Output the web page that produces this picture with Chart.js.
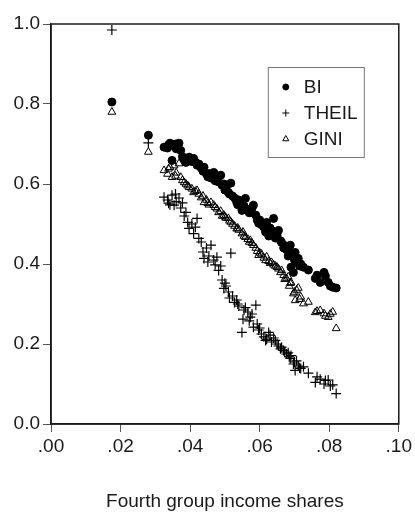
<!DOCTYPE html>
<html>
<head>
<meta charset="utf-8">
<script src="https://cdn.jsdelivr.net/npm/chart.js@4.4.1/dist/chart.umd.min.js"></script>
<style>
    html, body { margin: 0; padding: 0; background: #ffffff; }
    #wrap { width: 415px; height: 519px; position: relative; }
</style>
</head>
<body>
<div id="wrap"><canvas id="chartShares"></canvas></div>
<script>
// ========== DONNÉES ==========
const fourthShare = [
    0.0175, 0.0280, 0.0325, 0.0335, 0.0342, 0.0348, 0.0354, 0.0360, 0.0368, 0.0373,
    0.0378, 0.0388, 0.0393, 0.0397, 0.0405, 0.0410, 0.0420, 0.0425, 0.0432, 0.0440,
    0.0447, 0.0454, 0.0460, 0.0468, 0.0477, 0.0482, 0.0488, 0.0492, 0.0497, 0.0503,
    0.0510, 0.0517, 0.0522, 0.0528, 0.0534, 0.0540, 0.0549, 0.0555, 0.0559, 0.0566,
    0.0573, 0.0578, 0.0582, 0.0589, 0.0593, 0.0597, 0.0605, 0.0612, 0.0617, 0.0620,
    0.0626, 0.0634, 0.0640, 0.0645, 0.0654, 0.0660, 0.0663, 0.0669, 0.0677, 0.0682,
    0.0688, 0.0690, 0.0697, 0.0702, 0.0706, 0.0711, 0.0718, 0.0726, 0.0740, 0.0760,
    0.0774, 0.0785, 0.0789, 0.0797, 0.0803, 0.0810, 0.0820,
    0.0338, 0.0358, 0.0383, 0.0415, 0.0437, 0.0451, 0.0472, 0.0500, 0.0513, 0.0537,
    0.0552, 0.0570, 0.0600, 0.0630, 0.0650, 0.0672, 0.0685, 0.0700, 0.0715, 0.0765
];
const biValues = [
    0.805, 0.722, 0.692, 0.690, 0.702, 0.659, 0.695, 0.688, 0.702, 0.684,
    0.668, 0.654, 0.660, 0.667, 0.656, 0.664, 0.647, 0.650, 0.640, 0.642,
    0.625, 0.626, 0.615, 0.629, 0.612, 0.605, 0.622, 0.597, 0.600, 0.590,
    0.579, 0.602, 0.570, 0.565, 0.554, 0.560, 0.534, 0.545, 0.564, 0.535,
    0.529, 0.540, 0.547, 0.522, 0.510, 0.502, 0.498, 0.492, 0.480, 0.504,
    0.470, 0.484, 0.514, 0.465, 0.484, 0.458, 0.454, 0.440, 0.436, 0.420,
    0.447, 0.392, 0.379, 0.429, 0.405, 0.414, 0.400, 0.392, 0.385, 0.364,
    0.354, 0.379, 0.370, 0.354, 0.345, 0.342, 0.340,
    0.698, 0.700, 0.662, 0.655, 0.632, 0.618, 0.608, 0.585, 0.575, 0.548,
    0.538, 0.528, 0.510, 0.490, 0.472, 0.446, 0.432, 0.410, 0.395, 0.372
];
const theilValues = [
    0.985, 0.703, 0.567, 0.560, 0.548, 0.572, 0.547, 0.556, 0.565, 0.540,
    0.553, 0.529, 0.504, 0.489, 0.500, 0.476, 0.514, 0.464, 0.455, 0.414,
    0.440, 0.420, 0.447, 0.410, 0.417, 0.384, 0.395, 0.360, 0.339, 0.345,
    0.330, 0.427, 0.320, 0.304, 0.310, 0.295, 0.229, 0.285, 0.291, 0.280,
    0.267, 0.275, 0.242, 0.297, 0.250, 0.235, 0.225, 0.218, 0.209, 0.212,
    0.229, 0.205, 0.215, 0.209, 0.195, 0.188, 0.192, 0.184, 0.175, 0.178,
    0.164, 0.171, 0.150, 0.134, 0.158, 0.145, 0.139, 0.143, 0.127, 0.104,
    0.112, 0.100, 0.109, 0.110, 0.095, 0.098, 0.076,
    0.552, 0.575, 0.520, 0.492, 0.430, 0.405, 0.398, 0.352, 0.315, 0.300,
    0.262, 0.258, 0.240, 0.222, 0.200, 0.180, 0.168, 0.155, 0.140, 0.118
];
const giniValues = [
    0.780, 0.680, 0.634, 0.625, 0.642, 0.617, 0.646, 0.628, 0.651, 0.617,
    0.609, 0.600, 0.596, 0.592, 0.588, 0.579, 0.584, 0.575, 0.566, 0.554,
    0.560, 0.548, 0.554, 0.547, 0.538, 0.529, 0.532, 0.520, 0.522, 0.515,
    0.514, 0.505, 0.500, 0.495, 0.488, 0.485, 0.476, 0.470, 0.467, 0.462,
    0.459, 0.452, 0.447, 0.440, 0.432, 0.422, 0.425, 0.415, 0.409, 0.418,
    0.407, 0.404, 0.398, 0.395, 0.388, 0.379, 0.384, 0.372, 0.364, 0.368,
    0.352, 0.354, 0.326, 0.309, 0.335, 0.340, 0.318, 0.301, 0.305, 0.279,
    0.284, 0.276, 0.270, 0.267, 0.275, 0.280, 0.239,
    0.638, 0.620, 0.604, 0.582, 0.570, 0.552, 0.542, 0.518, 0.508, 0.490,
    0.480, 0.455, 0.428, 0.402, 0.392, 0.362, 0.345, 0.330, 0.312, 0.282
];
const xTicks = [0, 0.02, 0.04, 0.06, 0.08, 0.10];
const yTicks = [0, 0.2, 0.4, 0.6, 0.8, 1.0];
const seriesNames = ['BI', 'THEIL', 'GINI'];
const xTitle = 'Fourth group income shares';

(function() {
    'use strict';

    const FONT = "'Liberation Sans', Arial, sans-serif";
    const INK = '#1a1a1a';

    const toPoints = (vals) => fourthShare.map((x, i) => ({ x: x, y: vals[i] }));

    // ========== CADRE + LÉGENDE ==========
    const framePlugin = {
        id: 'frameBox',
        afterDraw(chart) {
            const { ctx, chartArea: a } = chart;
            ctx.save();
            ctx.strokeStyle = INK;
            ctx.lineWidth = 1.5;
            ctx.strokeRect(a.left, a.top, a.right - a.left, a.bottom - a.top);

            // légende dans la zone du graphique
            const bx = a.right - 131, by = a.top + 43, bw = 96, bh = 90;
            ctx.lineWidth = 1;
            ctx.strokeStyle = '#777';
            ctx.strokeRect(bx + 0.5, by + 0.5, bw, bh);
            ctx.font = '19px ' + FONT;
            ctx.textBaseline = 'middle';
            chart.data.datasets.forEach((ds, i) => {
                const cy = by + 20 + i * 26;
                const opts = {
                    pointStyle: ds.pointStyle,
                    radius: ds.pointStyle === 'circle' ? 3 : 3.5,
                    borderWidth: 1
                };
                ctx.strokeStyle = '#000';
                ctx.fillStyle = ds.backgroundColor;
                if (Chart.helpers && Chart.helpers.drawPoint) {
                    Chart.helpers.drawPoint(ctx, opts, bx + 18, cy);
                }
                ctx.fillStyle = INK;
                ctx.fillText(ds.label, bx + 36, cy + 1);
            });
            ctx.restore();
        }
    };

    function initChart() {
        const ctx = document.getElementById('chartShares');
        if (!ctx) return;

        new Chart(ctx, {
            type: 'scatter',
            data: {
                datasets: [{
                    label: seriesNames[0],
                    data: toPoints(biValues),
                    pointStyle: 'circle',
                    radius: 4,
                    backgroundColor: '#000',
                    borderColor: '#000',
                    borderWidth: 1
                }, {
                    label: seriesNames[1],
                    data: toPoints(theilValues),
                    pointStyle: 'cross',
                    radius: 5,
                    backgroundColor: '#000',
                    borderColor: '#000',
                    borderWidth: 1.2
                }, {
                    label: seriesNames[2],
                    data: toPoints(giniValues),
                    pointStyle: 'triangle',
                    radius: 4.5,
                    backgroundColor: 'rgba(255,255,255,0)',
                    borderColor: '#000',
                    borderWidth: 1
                }]
            },
            options: {
                responsive: true,
                maintainAspectRatio: false,
                animation: false,
                layout: { padding: { left: 0, right: 14, top: 24, bottom: 0 } },
                plugins: {
                    legend: { display: false },
                    tooltip: { enabled: false }
                },
                scales: {
                    x: {
                        type: 'linear',
                        min: 0, max: 0.1,
                        afterBuildTicks: (s) => { s.ticks = xTicks.map(v => ({ value: v })); },
                        afterFit: (s) => { s.height = 95; },
                        border: { display: true, color: INK, width: 1.5 },
                        grid: { display: true, drawOnChartArea: false, drawTicks: true, tickLength: 8, color: '#555' },
                        ticks: {
                            color: INK,
                            padding: 3,
                            font: { family: FONT, size: 19 },
                            callback: (v) => v.toFixed(2).replace(/^0/, '')
                        },
                        title: {
                            display: true,
                            text: xTitle,
                            color: INK,
                            font: { family: FONT, size: 19 },
                            padding: { top: 0, bottom: 6 }
                        }
                    },
                    y: {
                        type: 'linear',
                        min: 0, max: 1,
                        afterBuildTicks: (s) => { s.ticks = yTicks.map(v => ({ value: v })); },
                        afterFit: (s) => { s.width = 51; },
                        border: { display: true, color: INK, width: 1.5 },
                        grid: { display: true, drawOnChartArea: false, drawTicks: true, tickLength: 8, color: '#555' },
                        ticks: {
                            color: INK,
                            padding: 3,
                            font: { family: FONT, size: 19 },
                            callback: (v) => v.toFixed(1)
                        }
                    }
                }
            },
            plugins: [framePlugin]
        });
    }

    initChart();
})();
</script>
</body>
</html>
